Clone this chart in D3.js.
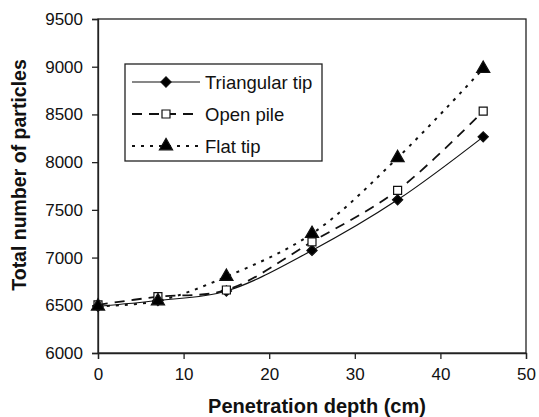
<!DOCTYPE html>
<html>
<head>
<meta charset="utf-8">
<script src="https://cdn.jsdelivr.net/npm/d3@7"></script>
<style>
  body { margin: 0; background: #fff; }
  svg { font-family: Arial, "Liberation Sans", sans-serif; }
</style>
</head>
<body>
<svg id="chart" width="539" height="417"></svg>
<script>
// data
var depth = [0, 7, 15, 25, 35, 45];
var triangularTip = [6490, 6550, 6650, 7075, 7605, 8265];
var openPile = [6505, 6590, 6660, 7165, 7705, 8535];
var flatTip = [6490, 6545, 6800, 7250, 8045, 8980];
var seriesNames = ["Triangular tip", "Open pile", "Flat tip"];
var xTicks = [0, 10, 20, 30, 40, 50];
var yTicks = [6000, 6500, 7000, 7500, 8000, 8500, 9000, 9500];

var svg = d3.select("#chart");

// margins
var margin_l = 98, margin_r = 13, margin_t = 19, margin_b = 64;
var W = 539, H = 417;

var xScale = d3.scaleLinear().domain([0, 50]).range([margin_l, W - margin_r]);
var yScale = d3.scaleLinear().domain([6000, 9500]).range([H - margin_b, margin_t]);

// diamond = square turned 45 deg
var series = [
  { name: seriesNames[0], vals: triangularTip, dash: null, sw: 1.2, sym: d3.symbolSquare, rot: 45, size: 52, fill: "#000" },
  { name: seriesNames[1], vals: openPile, dash: "10,7", sw: 1.8, sym: d3.symbolSquare, rot: 0, size: 64, fill: "#fff" },
  { name: seriesNames[2], vals: flatTip, dash: "3,6", sw: 2, sym: d3.symbolTriangle, rot: 0, size: 75, fill: "#000" }
];

// frame
svg.append("rect")
  .attr("x", margin_l).attr("y", margin_t)
  .attr("width", W - margin_r - margin_l)
  .attr("height", H - margin_b - margin_t)
  .attr("fill", "none").attr("stroke", "#222").attr("stroke-width", 1.3);

// axes
var xAxis = svg.append("g")
  .attr("transform", "translate(0," + (H - margin_b) + ")")
  .call(d3.axisBottom(xScale).tickValues(xTicks).tickSize(6).tickPadding(9));
var yAxis = svg.append("g")
  .attr("transform", "translate(" + margin_l + ",0)")
  .call(d3.axisLeft(yScale).tickValues(yTicks).tickSize(6).tickPadding(9).tickFormat(d3.format("d")));

[xAxis, yAxis].forEach(function(ax){
  ax.select(".domain").attr("stroke", "#222").attr("stroke-width", 1.3);
  ax.selectAll(".tick line").attr("stroke", "#222").attr("stroke-width", 1.3);
  ax.selectAll(".tick text").attr("fill", "#111").style("font-size", "17px");
});

// lines
var line = d3.line()
  .x(function(d, i){ return xScale(depth[i]); })
  .y(function(d){ return yScale(d); })
  .curve(d3.curveCatmullRom.alpha(0.5));

series.forEach(function(s){
  svg.append("path")
    .datum(s.vals)
    .attr("d", line)
    .attr("fill", "none")
    .attr("stroke", "#111")
    .attr("stroke-width", s.sw)
    .attr("stroke-dasharray", s.dash);
});

// markers
series.forEach(function(s){
  svg.append("g").selectAll("path")
    .data(s.vals)
    .enter().append("path")
    .attr("transform", function(d, i){ return "translate(" + xScale(depth[i]) + "," + yScale(d) + ") rotate(" + s.rot + ")"; })
    .attr("d", d3.symbol().type(s.sym).size(s.size))
    .attr("fill", s.fill)
    .attr("stroke", "#111")
    .attr("stroke-width", 1.2);
});

// legend
var lg = svg.append("g").attr("transform", "translate(125,64)");
lg.append("rect")
  .attr("width", 197).attr("height", 97)
  .attr("fill", "#fff").attr("stroke", "#222").attr("stroke-width", 1.3);
series.forEach(function(s, i){
  var yy = 18 + i * 32;
  lg.append("line")
    .attr("x1", 7).attr("x2", 75).attr("y1", yy).attr("y2", yy)
    .attr("stroke", "#111")
    .attr("stroke-width", s.sw)
    .attr("stroke-dasharray", s.dash);
  lg.append("path")
    .attr("transform", "translate(41," + yy + ") rotate(" + s.rot + ")")
    .attr("d", d3.symbol().type(s.sym).size(s.size))
    .attr("fill", s.fill).attr("stroke", "#111").attr("stroke-width", 1.2);
  lg.append("text")
    .attr("x", 80).attr("y", yy + 6.5)
    .style("font-size", "18.5px").attr("fill", "#111")
    .text(s.name);
});

// axis titles
svg.append("text")
  .attr("x", 317).attr("y", 413)
  .attr("text-anchor", "middle")
  .style("font-size", "20px").style("font-weight", "bold").attr("fill", "#111")
  .text("Penetration depth (cm)");

svg.append("text")
  .attr("transform", "translate(26,175) rotate(-90)")
  .attr("text-anchor", "middle")
  .style("font-size", "19.5px").style("font-weight", "bold").attr("fill", "#111")
  .text("Total number of particles");
</script>
</body>
</html>
